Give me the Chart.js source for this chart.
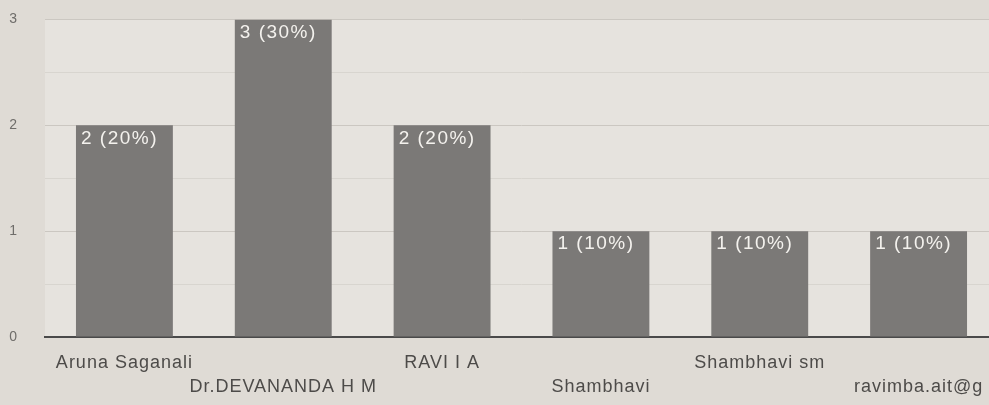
<!DOCTYPE html>
<html>
<head>
<meta charset="utf-8">
<script src="https://cdn.jsdelivr.net/npm/chart.js@4"></script>
<style>
  html, body { margin: 0; padding: 0; background: #dfdbd5; overflow: hidden; }
  #wrap { width: 1000px; height: 421px; margin-top: -16px; }
</style>
</head>
<body>
<div id="wrap"><canvas id="bar"></canvas></div>
<script>
const names = ["Aruna Saganali", "Dr.DEVANANDA H M", "RAVI I A", "Shambhavi", "Shambhavi sm", "ravimba.ait@g"];
const counts = [2, 3, 2, 1, 1, 1];
const yTicks = [0, 1, 2, 3];

const total = counts.reduce((a, b) => a + b, 0);

// labels alternate between two rows
const rowLabels = names.map((n, i) => (i % 2 === 0 ? [n] : ["", n]));

const plotBg = {
  id: "plotBg",
  beforeDraw(chart) {
    const { ctx, chartArea: a } = chart;
    ctx.letterSpacing = "1px";
    ctx.save();
    ctx.fillStyle = "#e6e3de";
    ctx.fillRect(a.left, a.top, a.right - a.left, a.bottom - a.top);
    ctx.restore();
  },
};

const barText = {
  id: "barText",
  afterDatasetsDraw(chart) {
    const { ctx } = chart;
    const meta = chart.getDatasetMeta(0);
    ctx.save();
    ctx.fillStyle = "#f4f2ee";
    ctx.font = "19px 'Liberation Sans', Arial, sans-serif";
    ctx.letterSpacing = "1.5px";
    ctx.textBaseline = "middle";
    meta.data.forEach((bar, i) => {
      const v = counts[i];
      const left = bar.x - bar.width / 2;
      ctx.fillText(v + " (" + Math.round((v / total) * 100) + "%)", left + 5, bar.y + 13);
    });
    ctx.restore();
  },
};

new Chart(document.getElementById("bar"), {
  type: "bar",
  data: {
    labels: rowLabels,
    datasets: [
      {
        data: counts,
        backgroundColor: "#7b7977",
        barPercentage: 0.61,
        categoryPercentage: 1,
      },
    ],
  },
  options: {
    responsive: true,
    maintainAspectRatio: false,
    animation: false,
    layout: { padding: { top: 4, right: 2, left: 0, bottom: 0 } },
    plugins: { legend: { display: false }, tooltip: { enabled: false } },
    scales: {
      x: {
        grid: { display: false },
        border: { color: "#4a4a4a", width: 2 },
        ticks: {
          autoSkip: false,
          maxRotation: 0,
          padding: 7,
          color: "#4d4b49",
          font: { family: "'Liberation Sans', Arial, sans-serif", size: 18, lineHeight: 1.28 },
        },
        afterFit(scale) { scale.height = 68; },
      },
      y: {
        min: yTicks[0],
        max: yTicks[yTicks.length - 1],
        ticks: {
          stepSize: 0.5,
          padding: 27,
          color: "#6f6d6a",
          font: { family: "'Liberation Sans', Arial, sans-serif", size: 14 },
          callback: (v) => (yTicks.includes(v) ? v : ""),
        },
        grid: {
          drawTicks: false,
          color: (c) => (c.tick && Number.isInteger(c.tick.value) ? "#cbc7c1" : "#d8d5cf"),
        },
        border: { display: false },
        afterFit(scale) { scale.width = 45; },
      },
    },
  },
  plugins: [plotBg, barText],
});
</script>
</body>
</html>
